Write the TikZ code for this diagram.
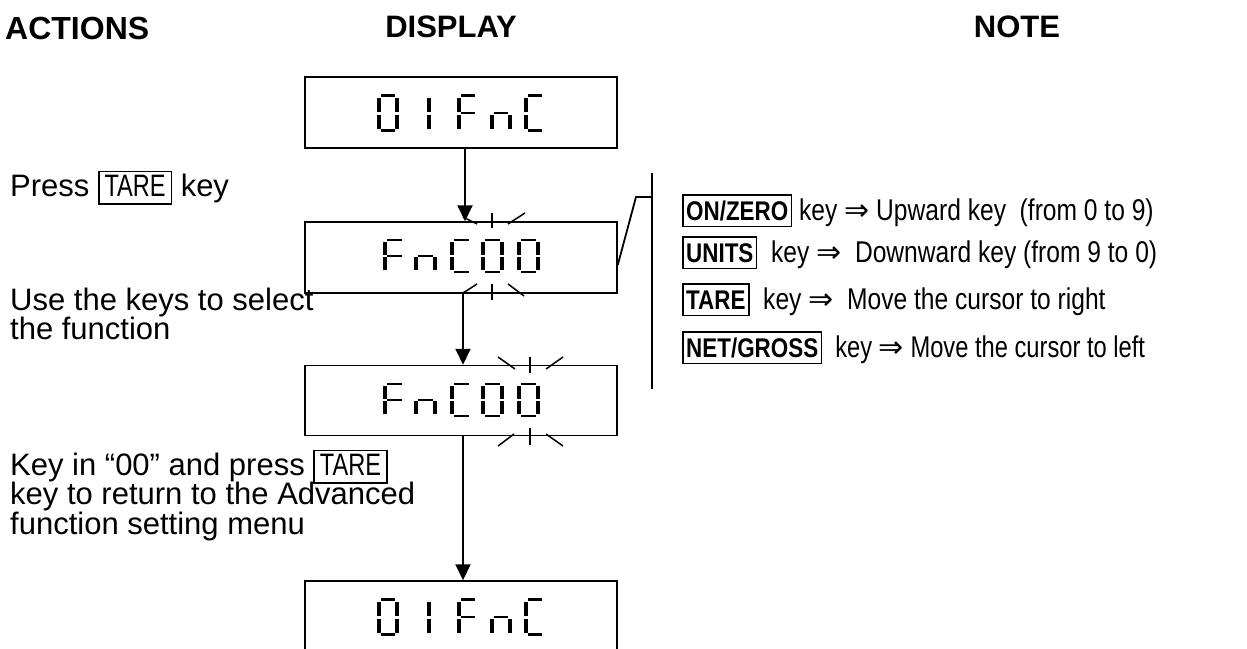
\documentclass[tikz,border=0pt]{standalone}
\usepackage{fontspec}
\setmainfont{Liberation Sans}
\newfontfamily\notefont[FakeStretch=0.82]{Liberation Sans}
\newfontfamily\notefontB[FakeStretch=0.79]{Liberation Sans}
\newfontfamily\keyfont[FakeStretch=0.76]{Liberation Sans}
\newfontfamily\nkeyfont[FakeStretch=0.83]{Liberation Sans}
\newfontfamily\arrfont{DejaVu Sans}
\usetikzlibrary{arrows.meta}
\newcommand\kbox[1]{{\setlength\fboxsep{1pt}\setlength\fboxrule{1.5pt}\fbox{\hspace{4pt}\rule[-6pt]{0pt}{29pt}{\keyfont #1}\hspace{4pt}}}}
\newcommand\nbox[1]{{\setlength\fboxsep{1pt}\setlength\fboxrule{1.5pt}\fbox{\hspace{1.5pt}\rule[-4.5pt]{0pt}{28pt}{\fontsize{27}{28}\selectfont\nkeyfont\bfseries #1}\hspace{1.5pt}}}}
\newcommand\imp{{\arrfont ⇒}}
\newcommand\lines[1]{\parbox[t]{420pt}{\raggedright\lineskiplimit=-100pt\lineskip=0pt #1}}
\newcommand\sgA{\fill (4,0) rectangle (18,2.6);}
\newcommand\sgB{\fill (18.2,3.5) rectangle (21.8,18);}
\newcommand\sgC{\fill (18.2,20.5) rectangle (21.8,34.5);}
\newcommand\sgD{\fill (4,35.4) rectangle (18,38);}
\newcommand\sgE{\fill (0.2,20.5) rectangle (3.8,34.5);}
\newcommand\sgF{\fill (0.2,3.5) rectangle (3.8,18);}
\newcommand\sgG{\fill (4,17.9) rectangle (18,20.3);}
\tikzset{
  pics/dzero/.style={code={\sgA\sgB\sgC\sgD\sgE\sgF}},
  pics/done/.style={code={\sgB\sgC}},
  pics/dF/.style={code={\sgA\sgE\sgF\sgG}},
  pics/dn/.style={code={\sgC\sgE\sgG}},
  pics/dC/.style={code={\sgA\sgD\sgE\sgF}},
}
\begin{document}
\begin{tikzpicture}[x=1pt,y=-1pt,
  dispbox/.style={draw, line width=1.5pt, minimum width=312pt, minimum height=71pt, inner sep=0pt},
  arr/.style={line width=2pt, -{Triangle[length=16pt,width=15pt]}},
  blink/.style={line width=1.5pt},
  call/.style={line width=1.8pt},
  txt/.style={anchor=base west, inner sep=0pt, font=\fontsize{31}{29.5}\selectfont},
  hdr/.style={anchor=base, inner sep=0pt, font=\fontsize{31}{36}\selectfont\bfseries},
  note/.style={anchor=base west, inner sep=0pt, font=\fontsize{30}{28}\selectfont\notefont},
  small/.style={xscale=1.05, yscale=0.9}
]
\useasboundingbox (0,0) rectangle (1247,648);
\clip (0,0) rectangle (1247,648);

% headers
\node[hdr, anchor=base west, font=\fontsize{32}{36}\selectfont\bfseries] (hA) at (5,39) {ACTIONS};
\node[hdr] (hD) at (451,37) {DISPLAY};
\node[hdr] (hN) at (1017,37) {NOTE};

% display boxes
\node[dispbox] (b1) at (461,112.5) {};
\node[dispbox] (b2) at (461,257.5) {};
\node[dispbox, minimum height=70pt] (b3) at (461,400.5) {};
\node[dispbox] (b4) at (461,616.5) {};

% arrows
\draw[arr] ([xshift=4pt]b1.south) -- ([xshift=4pt]b2.north);
\draw[arr] ([xshift=2pt]b2.south) -- ([xshift=2pt]b3.north);
\draw[arr] ([xshift=2pt]b3.south) -- ([xshift=2pt]b4.north);

% digits
\foreach \yy in {94,598}{
  \pic at (377,\yy) {dzero};
  \pic at (409,\yy) {done};
  \pic at (457,\yy) {dF};
  \pic at (490,\yy) {dn};
  \pic at (524,\yy) {dC};
}
\foreach \yy in {239,383}{
  \pic[small] at (383,\yy) {dF};
  \pic[small] at (414,\yy) {dn};
  \pic[small] at (450,\yy) {dC};
  \pic[small] at (481,\yy) {dzero};
  \pic[small] at (517,\yy) {dzero};
}

% blink marks
\draw[blink] (463,217) -- (477,224);
\draw[blink] (492,213) -- (492,228);
\draw[blink] (508,224) -- (525,213);
\draw[blink] (463,293) -- (477,284);
\draw[blink] (492,284) -- (492,300);
\draw[blink] (508,284) -- (524,296);
\draw[blink] (498,357) -- (515,369);
\draw[blink] (530,357) -- (530,373);
\draw[blink] (546,369) -- (563,357);
\draw[blink] (498,446) -- (514,434);
\draw[blink] (530,428) -- (530,445);
\draw[blink] (546,434) -- (563,446);

% callout bracket
\coordinate (cK) at (636,197);
\coordinate (cT) at (652,173);
\coordinate (cB) at (652,389);
\draw[call] (cT) -- (cB);
\draw[call] ([yshift=-7.5pt]b2.east) -- (cK) -- (cK -| cT);

% actions text
\node[txt] (t1) at (10,196) {Press \kbox{TARE} key};
\node[txt] (t2) at (10,310) {\lines{Use the keys to select\\the function}};
\node[txt] (t4) at (10,475) {\lines{Key in “00” and press \kbox{TARE}\\key to return to the Advanced\\function setting menu}};

% notes
\node[note] (n1) at (682,220) {\nbox{ON/ZERO} key \imp{} Upward key\ \ (from 0 to 9)};
\node[note] (n2) at (682,262) {\nbox{UNITS}\ \ key \imp\ \ Downward key (from 9 to 0)};
\node[note] (n3) at (682,309) {\nbox{TARE}\ \ key \imp\ \ Move the cursor to right};
\node[note, font=\fontsize{30}{28}\selectfont\notefontB] (n4) at (682,357) {\nbox{NET/GROSS}\ \ key \imp{} Move the cursor to left};
\end{tikzpicture}
\end{document}
